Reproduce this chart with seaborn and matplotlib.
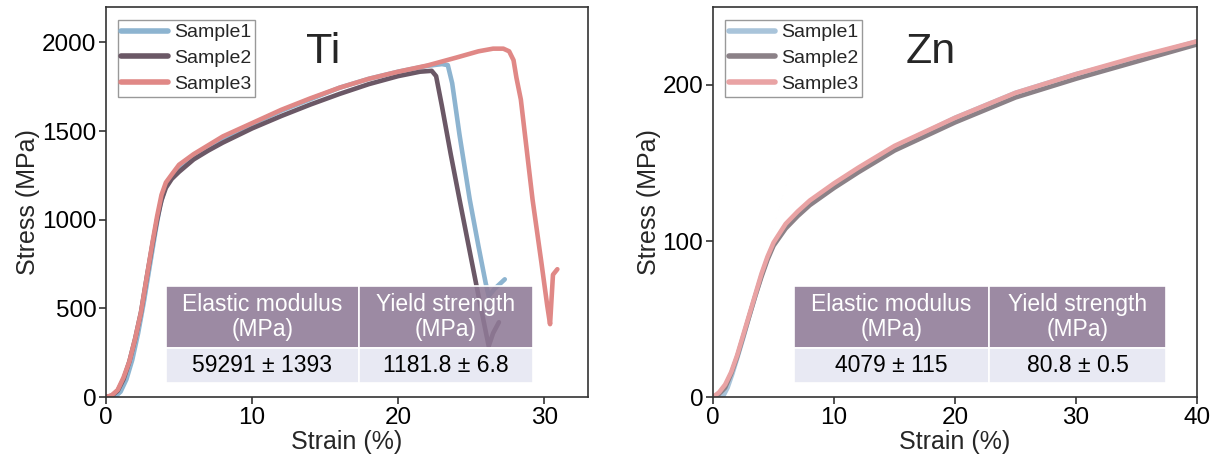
import matplotlib
matplotlib.use("Agg")
import matplotlib.pyplot as plt
import seaborn as sns
import pandas as pd

# ---- Ti tensile curves (strain %, stress MPa) ----
ti_s1_strain = [0, 0.6, 1.0, 1.4, 1.8, 2.2, 2.6, 3.0, 3.4, 3.7, 4.0, 4.3, 4.7, 5.2, 6, 7, 8, 10, 12, 14, 16, 18, 20, 22,
                23.0, 23.4, 23.7, 24.2, 24.9, 25.5, 26.0, 26.2, 26.6, 27.3]
ti_s1_stress = [0, 0, 30, 100, 210, 360, 540, 740, 940, 1080, 1170, 1225, 1265, 1300, 1360, 1410, 1460, 1540, 1615,
                1680, 1745, 1795, 1835, 1868, 1878, 1872, 1770, 1480, 1115, 850, 640, 570, 610, 664]

ti_s2_strain = [0, 0.4, 0.8, 1.2, 1.6, 2.0, 2.4, 2.8, 3.2, 3.5, 3.8, 4.1, 4.5, 5, 6, 7, 8, 10, 12, 14, 16, 18, 20, 21.5,
                22.3, 22.6, 23.0, 23.6, 24.2, 25.0, 25.6, 26.2, 26.5, 26.9]
ti_s2_stress = [0, 8, 35, 100, 200, 330, 480, 680, 870, 1000, 1110, 1180, 1230, 1270, 1340, 1390, 1435, 1515, 1585,
                1650, 1710, 1765, 1810, 1835, 1840, 1810, 1640, 1370, 1115, 780, 530, 287, 360, 422]

ti_s3_strain = [0, 0.4, 0.8, 1.2, 1.6, 2.0, 2.4, 2.8, 3.2, 3.5, 3.8, 4.1, 4.5, 5.0, 6, 7, 8, 10, 12, 14, 16, 18, 20, 22,
                24, 25.5, 26.5, 27.2, 27.6, 27.9, 28.1, 28.4, 29.2, 29.8, 30.2, 30.4, 30.6, 30.9]
ti_s3_stress = [0, 10, 40, 110, 200, 330, 480, 680, 880, 1020, 1140, 1210, 1255, 1310, 1370, 1420, 1470, 1545, 1620,
                1685, 1745, 1795, 1835, 1870, 1915, 1950, 1965, 1965, 1950, 1900, 1800, 1678, 1115, 763, 520, 411,
                690, 721]

# ---- Zn tensile curves ----
zn_strain = [0, 0.5, 1.0, 1.5, 2.0, 2.5, 3.0, 3.5, 4.0, 4.5, 5.0, 6, 7, 8, 10, 12, 15, 20, 25, 30, 35, 40]
zn_s1_strain = [0, 0.8, 1.2, 1.6, 2.0, 2.5, 3.0, 3.5, 4.0, 4.5, 5.0, 6, 7, 8, 10, 12, 15, 20, 25, 30, 35, 40]
zn_s1_stress = [0, 0, 6, 15, 25, 38, 52, 65, 78, 89, 98, 110, 118, 125, 136, 146, 160, 179, 195, 207, 217, 228]
zn_s2_stress = [0, 2, 6, 15, 26, 39, 52, 65, 77, 88, 97, 108, 116, 123, 134, 144, 158, 176, 192, 204, 215, 226]
zn_s3_stress = [0, 3, 8, 16, 27, 40, 53, 66, 79, 90, 99, 111, 119, 126, 137, 147, 161, 179, 195, 207, 218, 228]

samples = ["Sample1", "Sample2", "Sample3"]
ti_colors = ["#8db4d0", "#6b5866", "#e08886"]
zn_colors = ["#a9c4da", "#8b8187", "#e9a3a4"]

# ---- summary tables ----
table_header = ["Elastic modulus\n(MPa)", "Yield strength\n(MPa)"]
ti_table_values = ["59291 ± 1393", "1181.8 ± 6.8"]
zn_table_values = ["4079 ± 115", "80.8 ± 0.5"]

sns.set_theme(style="ticks")
plt.rcParams["font.family"] = ["Liberation Sans", "DejaVu Sans"]

fig = plt.figure(figsize=(12.21, 4.66), dpi=100)
ax1 = fig.add_axes([0.0868, 0.148, 0.3948, 0.837])
ax2 = fig.add_axes([0.584, 0.148, 0.3964, 0.837])


def draw_curves(ax, curves, colors):
    for (name, x, y), c in zip(curves, colors):
        df = pd.DataFrame({"Strain": x, "Stress": y})
        sns.lineplot(data=df, x="Strain", y="Stress", ax=ax, sort=False, color=c,
                     linewidth=3.3, label=name, zorder=2, solid_capstyle="round",
                     solid_joinstyle="round")


def draw_table(ax, values, bbox, col_widths):
    tbl = ax.table(cellText=[table_header, values], colWidths=col_widths,
                   cellLoc="center", bbox=bbox, zorder=5)
    tbl.auto_set_font_size(False)
    for (r, c), cell in tbl.get_celld().items():
        cell.set_edgecolor("white")
        cell.set_linewidth(1.2)
        if r == 0:
            cell.set_facecolor((0.56, 0.48, 0.59, 0.88))
            cell.set_height(0.64)
            cell.get_text().set_color("white")
            cell.get_text().set_fontsize(16.5)
        else:
            cell.set_facecolor((0.905, 0.91, 0.953, 0.95))
            cell.set_height(0.36)
            cell.get_text().set_color("black")
            cell.get_text().set_fontsize(16.5)
        cell.get_text().set_linespacing(1.12)
    return tbl


def style_axes(ax, label):
    for sp in ax.spines.values():
        sp.set_visible(True)
        sp.set_linewidth(1.2)
        sp.set_color("#333333")
    ax.tick_params(direction="out", length=5, width=1.1, labelsize=17.5, pad=2,
                   colors="#222222", labelcolor="black")
    ax.set_xlabel("Strain (%)", fontsize=18, labelpad=1)
    ax.set_ylabel("Stress (MPa)", fontsize=18, labelpad=1)
    ax.text(0.45, 0.885, label, transform=ax.transAxes, fontsize=31,
            ha="center", va="center")
    leg = ax.legend(loc="upper left", bbox_to_anchor=(0.012, 0.982), fontsize=14,
                    handlelength=2.4, handletextpad=0.3, borderpad=0.2,
                    labelspacing=0.42, borderaxespad=0.3, fancybox=False,
                    framealpha=1)
    leg.get_frame().set_edgecolor("#999999")
    leg.get_frame().set_linewidth(1.0)
    for h in leg.get_lines():
        h.set_linewidth(4)


draw_curves(ax1, [("Sample1", ti_s1_strain, ti_s1_stress),
                  ("Sample2", ti_s2_strain, ti_s2_stress),
                  ("Sample3", ti_s3_strain, ti_s3_stress)], ti_colors)
ax1.set_xlim(0, 33)
ax1.set_ylim(0, 2200)
ax1.set_xticks([0, 10, 20, 30])
ax1.set_yticks([0, 500, 1000, 1500, 2000])
style_axes(ax1, "Ti")
draw_table(ax1, ti_table_values, [0.124, 0.036, 0.762, 0.249], [193, 174])

draw_curves(ax2, [("Sample1", zn_s1_strain, zn_s1_stress),
                  ("Sample2", zn_strain, zn_s2_stress),
                  ("Sample3", zn_strain, zn_s3_stress)], zn_colors)
ax2.set_xlim(0, 40)
ax2.set_ylim(0, 250)
ax2.set_xticks([0, 10, 20, 30, 40])
ax2.set_yticks([0, 100, 200])
style_axes(ax2, "Zn")
draw_table(ax2, zn_table_values, [0.167, 0.036, 0.769, 0.249], [196, 177])

fig.savefig("out.png", dpi=100)
